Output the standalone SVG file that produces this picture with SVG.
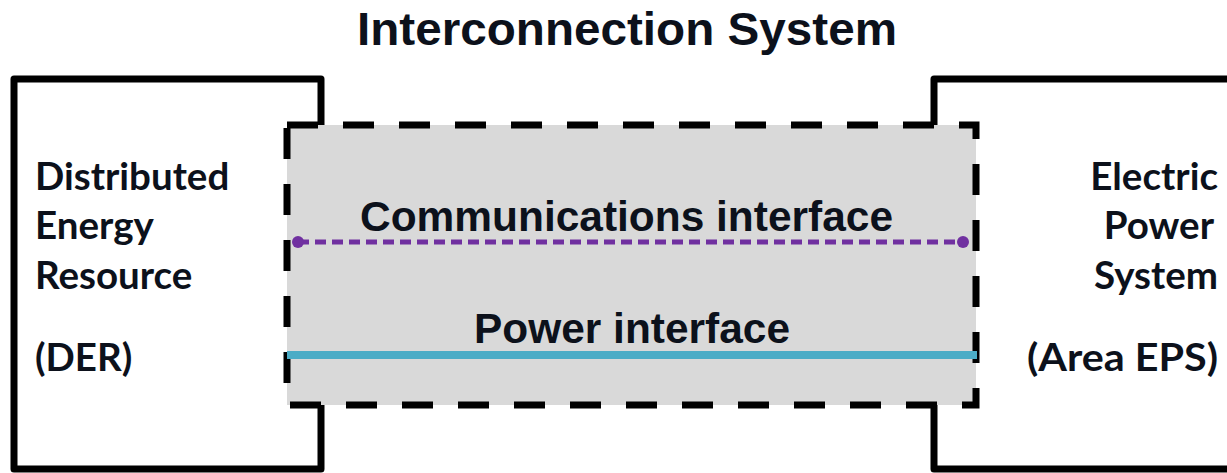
<svg xmlns="http://www.w3.org/2000/svg" width="1227" height="473" viewBox="0 0 1227 473">
  <style>
    .box { fill: #ffffff; stroke: #000000; stroke-width: 7; stroke-linejoin: round; }
    .sys { fill: #d9d9d9; stroke: #000000; stroke-width: 7; stroke-dasharray: 31 25; }
    .cal { font-family: Lato, "Open Sans", "Liberation Sans", sans-serif; font-weight: 700; font-size: 38.5px; fill: #0c111b; }
    .ari { font-family: "Liberation Sans", Arial, sans-serif; font-weight: 700; fill: #0c111b; }
    .comm { stroke: #7030a0; stroke-width: 5; stroke-dasharray: 11 6; fill: none; }
    .pwr { stroke: #4bacc6; stroke-width: 8; fill: none; }
    .dot { fill: #7030a0; }
  </style>
  <rect width="1227" height="473" fill="#ffffff"/>
  <g id="title">
    <text class="ari" x="627" y="45" font-size="46" text-anchor="middle" textLength="540" lengthAdjust="spacingAndGlyphs">Interconnection System</text>
  </g>
  <g id="der">
    <rect class="box" x="14" y="79" width="307" height="390"/>
    <text class="cal" x="35" y="190">Distributed</text>
    <text class="cal" x="35" y="239">Energy</text>
    <text class="cal" x="35" y="289">Resource</text>
    <text class="cal" x="35" y="371">(DER)</text>
  </g>
  <g id="area-eps">
    <path class="box" d="M1240,79 H934 V469 H1240"/>
    <text class="cal" x="1218" y="190" text-anchor="end">Electric</text>
    <text class="cal" x="1214" y="239" text-anchor="end">Power</text>
    <text class="cal" x="1218" y="289" text-anchor="end">System</text>
    <text class="cal" x="1218" y="371" text-anchor="end" textLength="191" lengthAdjust="spacingAndGlyphs">(Area EPS)</text>
  </g>
  <g id="interconnection-system">
    <rect class="sys" x="287" y="125" width="689" height="280"/>
  </g>
  <g id="connectors">
    <g id="communications-interface">
      <line class="comm" x1="298" y1="242" x2="963" y2="242"/>
      <circle class="dot" cx="298" cy="242" r="6"/>
      <circle class="dot" cx="963" cy="242" r="6"/>
      <text class="ari" x="626.5" y="231" font-size="42" text-anchor="middle" textLength="533" lengthAdjust="spacingAndGlyphs">Communications interface</text>
    </g>
    <g id="power-interface">
      <line class="pwr" x1="287" y1="355" x2="977" y2="355"/>
      <text class="ari" x="632" y="343" font-size="42" text-anchor="middle" textLength="316" lengthAdjust="spacingAndGlyphs">Power interface</text>
    </g>
  </g>
</svg>
